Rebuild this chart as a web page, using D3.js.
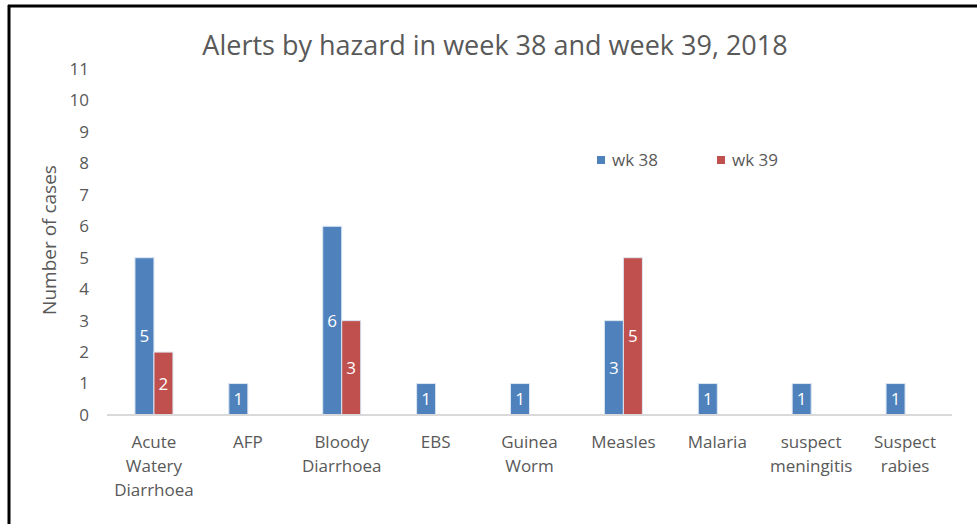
<!DOCTYPE html>
<html>
<head>
<meta charset="utf-8">
<script src="https://cdn.jsdelivr.net/npm/d3@7"></script>
<style>
  body { margin: 0; background: #fff; }
  svg text { font-family: "Open Sans", "Liberation Sans", sans-serif; fill: #595959; }
</style>
</head>
<body>
<div class="chart"></div>
<script>
var categories = [["Acute", "Watery", "Diarrhoea"], ["AFP"], ["Bloody", "Diarrhoea"], ["EBS"],
                  ["Guinea", "Worm"], ["Measles"], ["Malaria"], ["suspect", "meningitis"], ["Suspect", "rabies"]];
var wk38 = [5, 1, 6, 1, 1, 3, 1, 1, 1];
var wk39 = [2, null, 3, null, null, 5, null, null, null];
var seriesNames = ["wk 38", "wk 39"];
var colors = ["#4f81bd", "#c0504d"];
var yTicks = d3.range(0, 12);

var W = 977, H = 524;
var margin = {top: 69, right: 25, bottom: 109, left: 107},
    width = W - margin.left - margin.right,
    height = H - margin.top - margin.bottom;

var root = d3.select(".chart").append("svg")
    .attr("width", W)
    .attr("height", H);

// frame: only the top and left edges show
root.append("line").attr("x1", 8).attr("x2", W).attr("y1", 6).attr("y2", 6)
    .attr("stroke", "#000").attr("stroke-width", 3);
root.append("line").attr("x1", 9).attr("x2", 9).attr("y1", 5).attr("y2", H)
    .attr("stroke", "#000").attr("stroke-width", 3);

root.append("text")
    .attr("x", 495).attr("y", 55)
    .attr("text-anchor", "middle")
    .style("font-size", "27px")
    .text("Alerts by hazard in week 38 and week 39, 2018");

var svg = root.append("g")
    .attr("transform", "translate(" + margin.left + "," + margin.top + ")");

var x = d3.scaleBand()
    .domain(d3.range(categories.length))
    .range([0, width]);

var x1 = d3.scaleBand()
    .domain([0, 1])
    .range([x.bandwidth() / 2 - 19, x.bandwidth() / 2 + 19]);

var y = d3.scaleLinear()
    .domain([0, 11])
    .range([height, 0]);

var yAxis = d3.axisLeft(y).tickValues(yTicks).tickSize(0).tickPadding(18);
svg.append("g")
    .attr("class", "yaxis")
    .call(yAxis)
    .call(function(g){ g.select(".domain").remove(); })
    .selectAll("text")
    .style("font-size", "17px")
    .attr("fill", "#595959");

root.append("text")
    .attr("transform", "translate(56," + (margin.top + height / 2 - 2) + ") rotate(-90)")
    .attr("text-anchor", "middle")
    .style("font-size", "19px")
    .text("Number of cases");

var rows = [];
categories.forEach(function(c, i){
    [wk38[i], wk39[i]].forEach(function(v, s){
        if (v != null) rows.push({cat: i, s: s, v: v});
    });
});

var groups = svg.selectAll(".bar")
    .data(rows)
    .join("g")
    .attr("class", "bar");

groups.append("rect")
    .attr("x", function(d){ return x(d.cat) + x1(d.s); })
    .attr("width", x1.bandwidth())
    .attr("y", function(d){ return y(d.v); })
    .attr("height", function(d){ return height - y(d.v); })
    .attr("fill", function(d){ return colors[d.s]; })
    .attr("stroke", "#dce6f2")
    .attr("stroke-width", 1);

groups.append("text")
    .attr("x", function(d){ return x(d.cat) + x1(d.s) + x1.bandwidth() / 2; })
    .attr("y", function(d){ return y(d.v / 2) + 6; })
    .attr("text-anchor", "middle")
    .style("font-size", "17px")
    .style("fill", "#fff")
    .text(function(d){ return d.v; });

// baseline
svg.append("line")
    .attr("x1", 0).attr("x2", width)
    .attr("y1", height).attr("y2", height)
    .attr("stroke", "#d9d9d9").attr("stroke-width", 2);

var xl = svg.selectAll(".xlabel")
    .data(categories)
    .join("text")
    .attr("class", "xlabel")
    .attr("text-anchor", "middle")
    .attr("y", height + 33)
    .style("font-size", "17px");
xl.each(function(lines, i){
    var t = d3.select(this);
    lines.forEach(function(l, k){
        t.append("tspan")
            .attr("x", x(i) + x.bandwidth() / 2)
            .attr("dy", k == 0 ? 0 : 24)
            .text(l);
    });
});

// legend
var lx = [597, 717];
var legend = root.selectAll(".legend")
    .data(seriesNames)
    .join("g")
    .attr("class", "legend")
    .attr("transform", function(d, i){ return "translate(" + lx[i] + ",156)"; });
legend.append("rect")
    .attr("width", 8).attr("height", 8)
    .attr("fill", function(d, i){ return colors[i]; });
legend.append("text")
    .attr("x", 15).attr("y", 10)
    .style("font-size", "17px")
    .text(function(d){ return d; });
</script>
</body>
</html>
